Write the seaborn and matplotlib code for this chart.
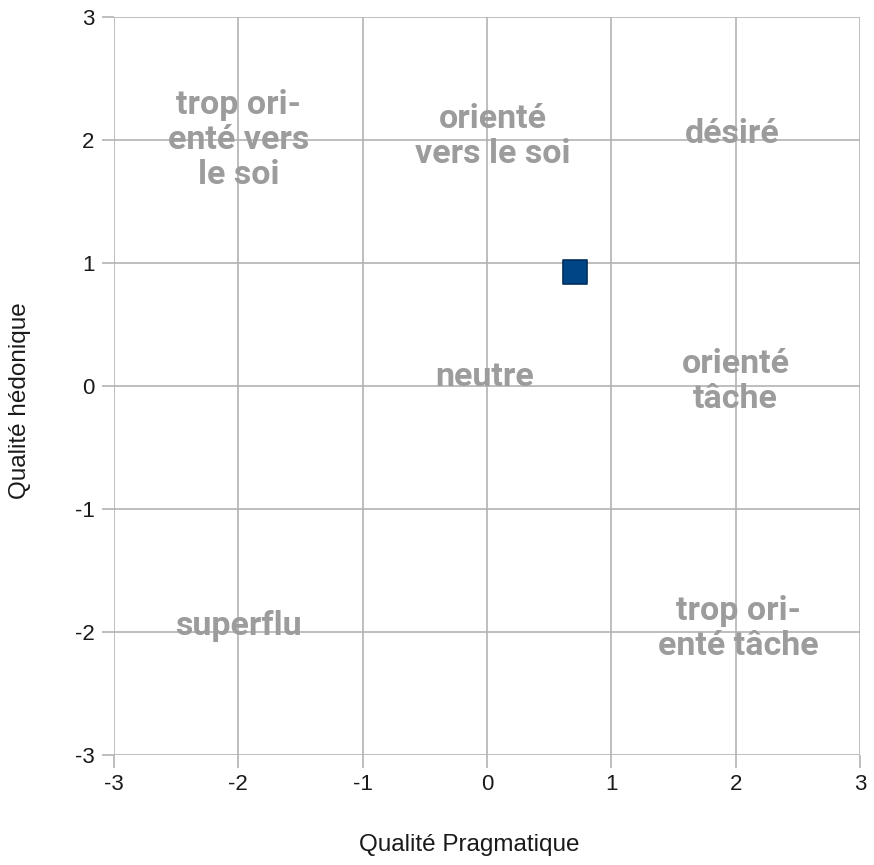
import matplotlib
matplotlib.use("Agg")
import matplotlib.pyplot as plt
import seaborn as sns
import pandas as pd

# data
pragmatique = [0.71]
hedonique = [0.93]
zone_labels = ["trop ori-\nenté vers\nle soi", "orienté\nvers le soi", "désiré",
               "neutre", "orienté\ntâche", "superflu", "trop ori-\nenté tâche"]
zone_x = [-2, 0.05, 1.97, -0.02, 2.0, -2.0, 2.02]
zone_y = [2.0, 2.03, 2.05, 0.07, 0.04, -1.95, -1.97]
ticks = [-3, -2, -1, 0, 1, 2, 3]

sns.set_theme(style="white")
plt.rcParams['font.family'] = ['Liberation Sans', 'DejaVu Sans']

fig = plt.figure(figsize=(8.74, 8.65), dpi=100)
ax = fig.add_axes([0.1304, 0.1272, 0.8536, 0.8531])

df = pd.DataFrame({"x": pragmatique, "y": hedonique})
sns.scatterplot(data=df, x="x", y="y", marker="s", s=320, color="#004586",
                edgecolor="#00305e", linewidth=1.2, ax=ax, zorder=5)

ax.set_xlim(-3, 3)
ax.set_ylim(-3, 3)
ax.set_xticks(ticks)
ax.set_yticks(ticks)
ax.set_xticklabels([str(t) for t in ticks], fontsize=16)
ax.set_yticklabels([str(t) for t in ticks], fontsize=16)
ax.grid(True, color="#b3b3b3", linewidth=1.2)
ax.set_axisbelow(True)
for s in ax.spines.values():
    s.set_visible(False)
ax.tick_params(axis="both", length=9, width=1.2, color="#b3b3b3",
               labelcolor="#1a1a1a", pad=5, direction="out", bottom=True, left=True)

for lab, x, y in zip(zone_labels, zone_x, zone_y):
    ax.text(x, y, lab, ha="center", va="center", fontsize=24.5, fontweight="bold",
            color="#9c9c9c", linespacing=1.12,
            family=["Roboto", "Liberation Sans", "DejaVu Sans"], zorder=3)

ax.set_xlabel("Qualité Pragmatique", fontsize=17.5, color="#1a1a1a")
ax.set_ylabel("Qualité hédonique", fontsize=17.5, color="#1a1a1a")
ax.xaxis.set_label_coords(0.4764, -0.107)
ax.yaxis.set_label_coords(-0.111, 0.48)

fig.savefig("out.png", dpi=100)
